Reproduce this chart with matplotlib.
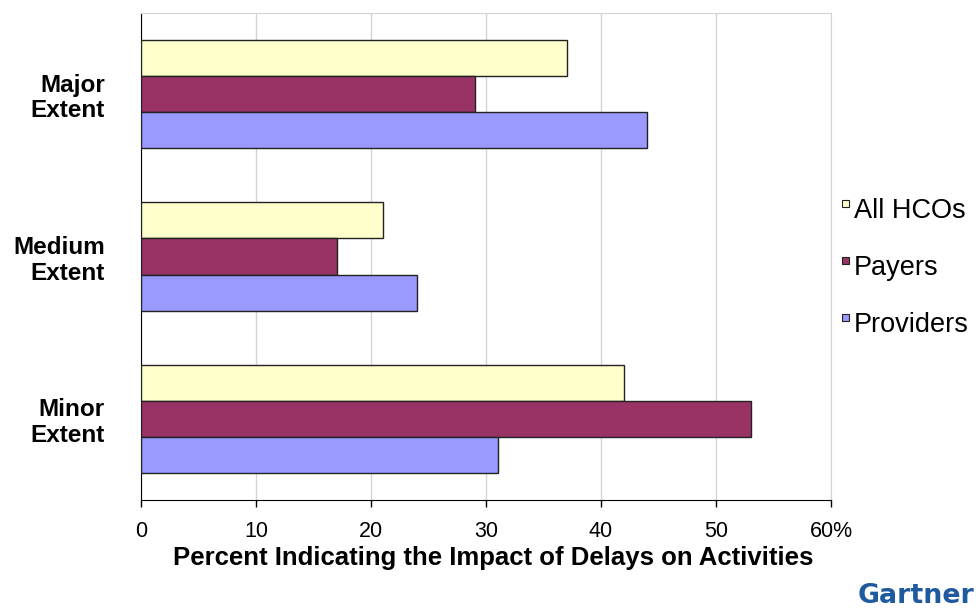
import matplotlib.pyplot as plt
import numpy as np
from matplotlib.patches import Rectangle
from matplotlib.transforms import ScaledTranslation

plt.rcParams['font.family'] = ['Liberation Sans', 'DejaVu Sans']

categories = ['Major\nExtent', 'Medium\nExtent', 'Minor\nExtent']
series = ['All HCOs', 'Payers', 'Providers']
all_hcos = [37, 21, 42]
payers = [29, 17, 53]
providers = [44, 24, 31]
colors = ['#FFFFCC', '#993366', '#9999FF']
xticks = [0, 10, 20, 30, 40, 50, 60]
xtick_labels = ['0', '10', '20', '30', '40', '50', '60%']

fig = plt.figure(figsize=(9.76, 6.13), dpi=100)
ax = fig.add_axes([141 / 976, 113 / 613, 690 / 976, 487 / 613])

y = np.arange(len(categories))
h = 2 / 9
for i, (vals, col) in enumerate(zip([all_hcos, payers, providers], colors)):
    ax.barh(y + (i - 1) * h, vals, height=h, color=col,
            edgecolor='#222222', linewidth=1.0, zorder=3)

ax.set_xlim(0, 60)
ax.set_ylim(2.5, -0.5)
ax.set_xticks(xticks)
ax.set_xticklabels(xtick_labels, fontsize=15.5)
# the % sign hangs past the last tick, keep "60" centred on it
last = ax.get_xticklabels()[-1]
last.set_transform(last.get_transform() + ScaledTranslation(0.09, 0, fig.dpi_scale_trans))

ax.set_yticks(y)
ax.set_yticklabels(categories, fontsize=17.5, fontweight='bold',
                   ha='right', multialignment='right', linespacing=1.15)
ax.tick_params(axis='y', length=0, pad=26)
ax.tick_params(axis='x', length=5, direction='out', width=1, pad=10)

ax.grid(axis='x', color='#d4d4d4', linewidth=1, zorder=0)
ax.spines['top'].set_color('#d4d4d4')
ax.spines['right'].set_color('#d4d4d4')
ax.spines['left'].set_color('black')
ax.spines['bottom'].set_color('black')

ax.set_xlabel('Percent Indicating the Impact of Delays on Activities',
              fontsize=18.5, fontweight='bold', labelpad=3)
ax.xaxis.label.set_x((493 - 141) / 690)

# legend: small boxes sitting a little above the labels
leg_y = [211, 268, 325]
for name, col, yy in zip(series, colors, leg_y):
    fig.patches.append(Rectangle((842 / 976, 1 - (yy - 4) / 613), 7 / 976, 7 / 613,
                                 transform=fig.transFigure, facecolor=col,
                                 edgecolor='#222222', linewidth=0.8))
    fig.text(854 / 976, 1 - yy / 613, name, fontsize=19.5, va='center', ha='left')

fig.text(858 / 976, 1 - 596 / 613, 'Gartner', fontsize=19.3, fontweight='bold',
         family='DejaVu Sans', color='#1f5a9e', va='center', ha='left')

fig.savefig('out.png', dpi=100)
